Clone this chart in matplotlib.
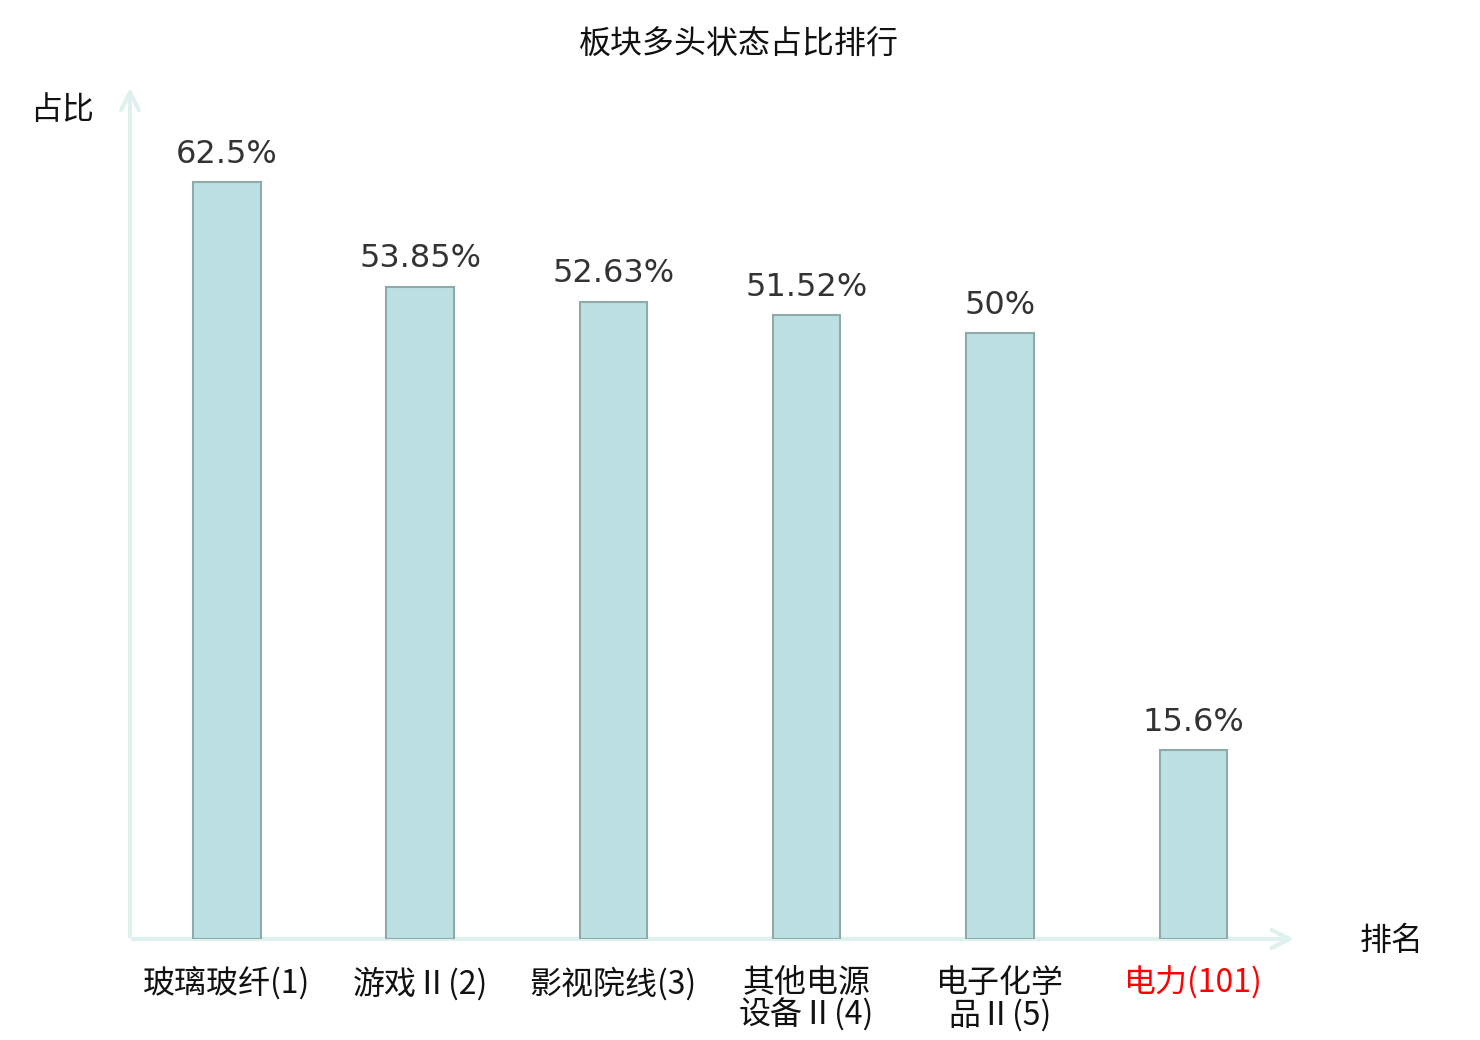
import matplotlib
matplotlib.use('Agg')
import matplotlib.pyplot as plt

plt.rcParams['font.family'] = ['Noto Sans CJK SC', 'DejaVu Sans']

categories = ['玻璃玻纤(1)', '游戏Ⅱ(2)', '影视院线(3)', '其他电源\n设备Ⅱ(4)', '电子化学\n品Ⅱ(5)', '电力(101)']
values = [62.5, 53.85, 52.63, 51.52, 50, 15.6]
value_labels = ['62.5%', '53.85%', '52.63%', '51.52%', '50%', '15.6%']
label_colors = ['#111111', '#111111', '#111111', '#111111', '#111111', '#ff0000']

fig = plt.figure(figsize=(14.8, 10.4), dpi=100)
ax = fig.add_axes([130 / 1480, 101 / 1040, 1160 / 1480, 849 / 1040])

x = list(range(len(values)))
ax.bar(x, values, width=0.35, color='#bde0e3', edgecolor='#8eaaaa', linewidth=1.5, zorder=3)
for xi, v, lab in zip(x, values, value_labels):
    ax.annotate(lab, (xi, v), xytext=(0, 9), textcoords='offset points',
                ha='center', va='bottom', fontsize=23, color='#333333', family='DejaVu Sans')

ax.set_xlim(-0.5, 5.5)
ax.set_ylim(0, 70.1)
for s in ax.spines.values():
    s.set_visible(False)
ax.set_yticks([])
ax.set_xticks(x)
ax.set_xticklabels(categories, fontsize=23, linespacing=1.0, va='top', fontweight='light')
for t, c in zip(ax.get_xticklabels(), label_colors):
    t.set_color(c)
ax.tick_params(axis='x', length=0, pad=20)

# axis arrows
arrow_color = '#dff1ee'
ax.annotate('', xy=(1.006, 0), xycoords='axes fraction', xytext=(0, 0),
            arrowprops=dict(arrowstyle='->', color=arrow_color, lw=3, mutation_scale=32), zorder=2)
ax.annotate('', xy=(0, 1.006), xycoords='axes fraction', xytext=(0, 0),
            arrowprops=dict(arrowstyle='->', color=arrow_color, lw=3, mutation_scale=32), zorder=2)

fig.text(62 / 1480, 1 - 110 / 1040, '占比', fontsize=23, ha='center', va='center', color='#111111')
fig.text(1392 / 1480, 1 - 941 / 1040, '排名', fontsize=23, ha='center', va='center', color='#111111')
fig.text(739 / 1480, 1 - 45 / 1040, '板块多头状态占比排行', fontsize=23, ha='center', va='center', color='#111111')

fig.savefig('out.png', dpi=100, facecolor='white')
